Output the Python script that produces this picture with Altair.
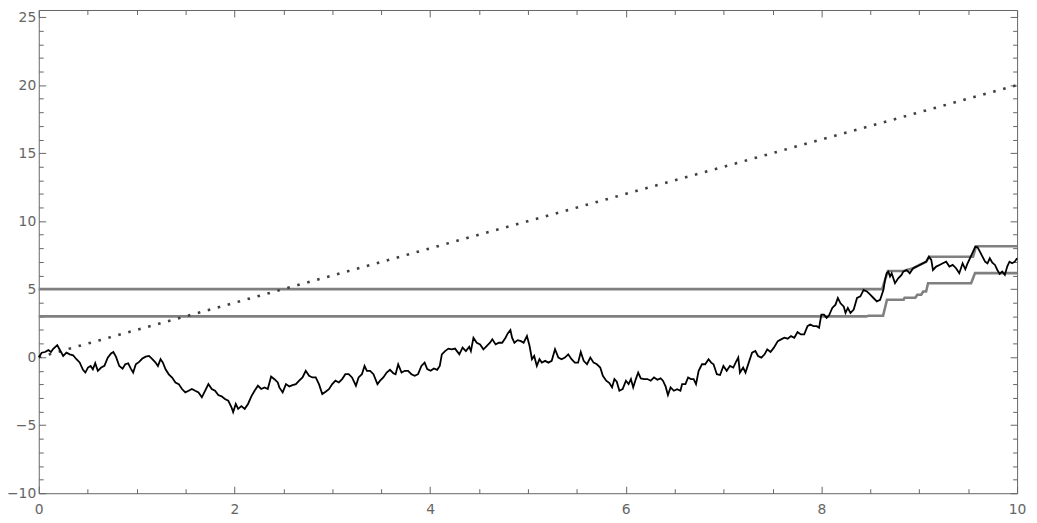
import altair as alt
import pandas as pd

# ---- data ----
WALK_X = [
    0.0, 0.03, 0.064, 0.098, 0.125, 0.148, 0.189, 0.216, 0.25, 0.283, 0.317, 0.351, 0.385, 0.418, 0.452, 0.476,
    0.503, 0.53, 0.553, 0.577, 0.604, 0.638, 0.671, 0.705, 0.739, 0.762, 0.789, 0.823, 0.857, 0.884, 0.914,
    0.941, 0.965, 0.992, 1.026, 1.059, 1.093, 1.127, 1.161, 1.194, 1.218, 1.245, 1.269, 1.296, 1.329, 1.363,
    1.397, 1.431, 1.464, 1.498, 1.532, 1.565, 1.599, 1.633, 1.667, 1.7, 1.734, 1.768, 1.802, 1.835, 1.869,
    1.903, 1.937, 1.97, 1.987, 2.014, 2.038, 2.071, 2.105, 2.139, 2.173, 2.206, 2.24, 2.274, 2.308, 2.341,
    2.375, 2.409, 2.443,
    2.459, 2.493, 2.527, 2.561, 2.594, 2.628, 2.662, 2.696, 2.729, 2.763, 2.797, 2.831, 2.864, 2.898, 2.932,
    2.966, 3.0, 3.033, 3.067, 3.101, 3.134, 3.168, 3.202, 3.242, 3.269, 3.303, 3.33, 3.354, 3.387, 3.421,
    3.462, 3.489, 3.522, 3.556, 3.59, 3.624, 3.647, 3.674, 3.708, 3.742, 3.775, 3.809, 3.843, 3.877, 3.911,
    3.944, 3.971, 4.005, 4.039, 4.072, 4.099, 4.12, 4.153, 4.187, 4.221, 4.255, 4.299, 4.332, 4.366, 4.4,
    4.417, 4.443, 4.477, 4.511, 4.545, 4.578, 4.612, 4.636, 4.67, 4.703, 4.737, 4.771, 4.794, 4.821, 4.838,
    4.862, 4.895, 4.929, 4.956, 4.99,
    5.017, 5.041, 5.064, 5.091, 5.118, 5.142, 5.176, 5.209, 5.243, 5.277, 5.311, 5.344, 5.378, 5.412, 5.446,
    5.479, 5.513, 5.54, 5.57, 5.604, 5.638, 5.671, 5.705, 5.739, 5.766, 5.8, 5.833, 5.86, 5.884, 5.908,
    5.935, 5.968, 6.002, 6.029, 6.053, 6.076, 6.103, 6.127, 6.154, 6.188, 6.222, 6.255, 6.289, 6.323, 6.356,
    6.38, 6.407, 6.431, 6.458, 6.492, 6.525, 6.559, 6.576, 6.61, 6.637, 6.667, 6.694, 6.718, 6.745, 6.779,
    6.812, 6.846, 6.873, 6.897, 6.931, 6.964, 6.998, 7.032, 7.065, 7.099, 7.123, 7.15, 7.167, 7.2, 7.224,
    7.257, 7.291, 7.325, 7.352, 7.386, 7.419, 7.446, 7.48, 7.514,
    7.554, 7.588, 7.621, 7.655, 7.689, 7.723, 7.756, 7.79, 7.824, 7.858, 7.885, 7.918, 7.952, 7.976, 7.999,
    8.026, 8.053, 8.077, 8.111, 8.144, 8.168, 8.195, 8.229, 8.246, 8.27, 8.297, 8.33, 8.364, 8.398,
    8.431, 8.465, 8.499, 8.532, 8.566, 8.6, 8.634, 8.65, 8.667, 8.684, 8.701, 8.718, 8.752, 8.785, 8.819,
    8.836, 8.87, 8.903, 8.937, 8.971, 9.005, 9.038, 9.072, 9.099, 9.123, 9.14, 9.173, 9.207, 9.241, 9.275,
    9.308, 9.342, 9.376, 9.409, 9.443,
    9.471, 9.494, 9.518, 9.545, 9.572, 9.596, 9.62, 9.646, 9.673, 9.697, 9.721, 9.747, 9.774, 9.798, 9.822,
    9.848, 9.875, 9.899, 9.922, 9.949, 9.976, 10.0,
]
WALK_Y = [
    0.0, 0.33, 0.38, 0.52, 0.38, 0.62, 0.89, 0.53, 0.09, 0.33, 0.21, 0.14, -0.15, -0.39, -0.93, -1.13,
    -0.76, -0.64, -0.89, -0.44, -1.0, -0.76, -0.64, -0.03, 0.28, 0.38, 0.04, -0.65, -0.84, -0.52, -0.45,
    -0.84, -1.13, -0.52, -0.35, -0.1, 0.04, 0.09, -0.15, -0.4, -0.65, -0.15, -0.4, -0.89, -1.26, -1.5,
    -1.86, -1.98, -2.34, -2.59, -2.47, -2.34, -2.47, -2.59, -2.95, -2.47, -1.98, -2.34, -2.47, -2.78, -2.88,
    -3.07, -3.2, -3.68, -4.04, -3.44, -3.8, -3.6, -3.8, -3.44, -2.88, -2.47, -2.1, -2.34, -2.22, -2.34,
    -1.42, -1.62, -1.86,
    -2.22, -2.59, -1.98, -2.15, -2.05, -1.98, -1.73, -1.49, -1.0, -1.37, -1.49, -1.49, -1.98, -2.71, -2.54,
    -2.35, -1.98, -1.73, -1.86, -1.61, -1.25, -1.25, -1.49, -2.1, -1.49, -1.25, -0.64, -1.0, -1.0, -1.25,
    -1.98, -1.73, -1.49, -1.13, -0.93, -1.18, -1.25, -0.52, -1.13, -1.0, -1.0, -1.25, -1.37, -1.25, -0.64,
    -0.4, -0.88, -1.0, -0.83, -0.93, -0.64, 0.21, 0.45, 0.63, 0.58, 0.63, 0.21, 0.7, 0.45, 0.77,
    0.45, 1.43, 1.06, 0.94, 0.58, 0.82, 1.06, 1.31, 0.94, 1.06, 1.06, 1.43, 1.75, 2.0, 1.43,
    1.06, 1.25, 1.18, 1.06, 1.55,
    0.82, -0.15, 0.09, -0.64, -0.15, -0.4, -0.27, -0.4, -0.27, 0.58, -0.03, -0.15, -0.03, 0.21, -0.15,
    -0.4, -0.4, 0.38, -0.27, -0.52, -0.03, -0.4, -0.52, -0.76, -1.37, -1.73, -1.9, -2.22, -1.61, -1.8,
    -2.47, -2.35, -1.73, -1.98, -1.61, -2.22, -1.61, -1.13, -1.56, -1.61, -1.61, -1.73, -1.49, -1.66, -1.56,
    -1.73, -2.15, -2.78, -2.22, -2.47, -2.35, -2.47, -1.98, -1.98, -1.49, -1.61, -1.61, -1.98, -1.0, -0.52,
    -0.52, -0.15, -0.4, -0.52, -1.25, -1.31, -0.64, -1.0, -0.64, -0.76, -0.4, -0.03, -1.13, -0.76, -1.13,
    -0.4, 0.33, 0.45, 0.09, -0.03, 0.21, 0.58, 0.38, 0.7,
    1.18, 1.31, 1.43, 1.36, 1.55, 1.43, 1.84, 1.67, 1.67, 2.28, 2.4, 2.28, 2.28, 2.16, 3.13,
    3.13, 2.89, 3.06, 3.62, 3.86, 4.35, 3.96, 3.71, 3.25, 3.62, 3.25, 3.5, 4.35, 4.47,
    4.95, 4.83, 4.59, 4.35, 4.1, 4.22, 4.95, 5.68, 6.17, 6.29, 5.93, 6.17, 5.44, 5.8, 6.05,
    6.29, 6.41, 6.17, 6.54, 6.66, 6.78, 6.9, 7.02, 7.39, 7.15, 6.41, 6.66, 6.78, 6.9, 7.02,
    6.66, 6.78, 6.54, 6.17, 6.9,
    6.46, 6.9, 7.27, 7.68, 8.11, 8.07, 7.76, 7.39, 7.02, 6.9, 7.27, 6.95, 6.78, 6.41, 6.12,
    6.29, 6.05, 6.66, 7.02, 6.9, 7.02, 7.27,
]

UPPER_X = [0.0, 8.62, 8.68, 8.84, 8.87, 8.94, 8.97, 9.0, 9.04, 9.07, 9.1, 9.55, 9.58, 10.0]
UPPER_Y = [5.0, 5.0, 6.34, 6.34, 6.41, 6.54, 6.66, 6.78, 6.9, 7.02, 7.38, 7.38, 8.15, 8.15]

LOWER_X = [0.0, 8.46, 8.48, 8.63, 8.67, 8.84, 8.85, 8.96, 8.98, 9.02, 9.04, 9.07, 9.09, 9.53, 9.57, 10.0]
LOWER_Y = [3.0, 3.0, 3.05, 3.05, 4.22, 4.22, 4.37, 4.37, 4.59, 4.59, 4.83, 4.83, 5.44, 5.44, 6.18, 6.18]

DOT_X = [0.0, 10.0]
DOT_Y = [0.0, 20.0]

X_MAJOR = [0, 2, 4, 6, 8, 10]
X_MINOR = [0.5, 1, 1.5, 2.5, 3, 3.5, 4.5, 5, 5.5, 6.5, 7, 7.5, 8.5, 9, 9.5]
Y_MAJOR = [-10, -5, 0, 5, 10, 15, 20, 25]
Y_MINOR = [v for v in range(-9, 26) if v % 5 != 0]

X_DOMAIN = [0, 10]
Y_DOMAIN = [-10, 25.52]

FRAME = "#666666"
FONT = "DejaVu Sans"

walk_df = pd.DataFrame({"x": WALK_X, "y": WALK_Y})
upper_df = pd.DataFrame({"x": UPPER_X, "y": UPPER_Y})
lower_df = pd.DataFrame({"x": LOWER_X, "y": LOWER_Y})
dot_df = pd.DataFrame({"x": DOT_X, "y": DOT_Y})

xs = alt.Scale(domain=X_DOMAIN, nice=False, zero=False)
ys = alt.Scale(domain=Y_DOMAIN, nice=False, zero=False)


def axis(orient, values, size, labels, pad=2):
    return alt.Axis(
        orient=orient, values=values, tickSize=size, offset=-size,
        labels=labels, labelPadding=pad, domain=False, grid=False,
        tickColor=FRAME, tickWidth=1, title="",
        labelFont=FONT, labelFontSize=14, labelColor=FRAME,
        labelFlush=False, labelOverlap=False,
    )


MAJ, MIN = 7, 4.5

upper = alt.Chart(upper_df).mark_line(color="#808080", strokeWidth=2.6).encode(
    x=alt.X("x:Q", scale=xs, axis=axis("top", X_MAJOR, MAJ, False)),
    y=alt.Y("y:Q", scale=ys, axis=axis("right", Y_MAJOR, MAJ, False)),
)
lower = alt.Chart(lower_df).mark_line(color="#808080", strokeWidth=2.6).encode(
    x=alt.X("x:Q", scale=xs, axis=axis("top", X_MINOR, MIN, False)),
    y=alt.Y("y:Q", scale=ys, axis=axis("right", Y_MINOR, MIN, False)),
)
dotted = alt.Chart(dot_df).mark_line(
    color="#404040", strokeWidth=2.6, strokeDash=[2.6, 7.8], strokeCap="butt"
).encode(
    x=alt.X("x:Q", scale=xs, axis=axis("bottom", X_MINOR, MIN, False)),
    y=alt.Y("y:Q", scale=ys, axis=axis("left", Y_MINOR, MIN, False)),
)
walk = alt.Chart(walk_df).mark_line(color="#000000", strokeWidth=1.8).encode(
    x=alt.X("x:Q", scale=xs, axis=axis("bottom", X_MAJOR, MAJ, True, 9)),
    y=alt.Y("y:Q", scale=ys, axis=axis("left", Y_MAJOR, MAJ, True, 3)),
)

chart = (
    alt.layer(upper, lower, dotted, walk)
    .resolve_axis(x="independent", y="independent")
    .properties(
        width=986, height=487,
        autosize=alt.AutoSizeParams(type="none"),
        padding={"left": 31, "top": 0, "right": 12, "bottom": 28},
        background="white",
    )
    .configure_view(stroke=FRAME, strokeWidth=1)
)

chart.save("out.html", embed_options={"renderer": "svg", "actions": False})
